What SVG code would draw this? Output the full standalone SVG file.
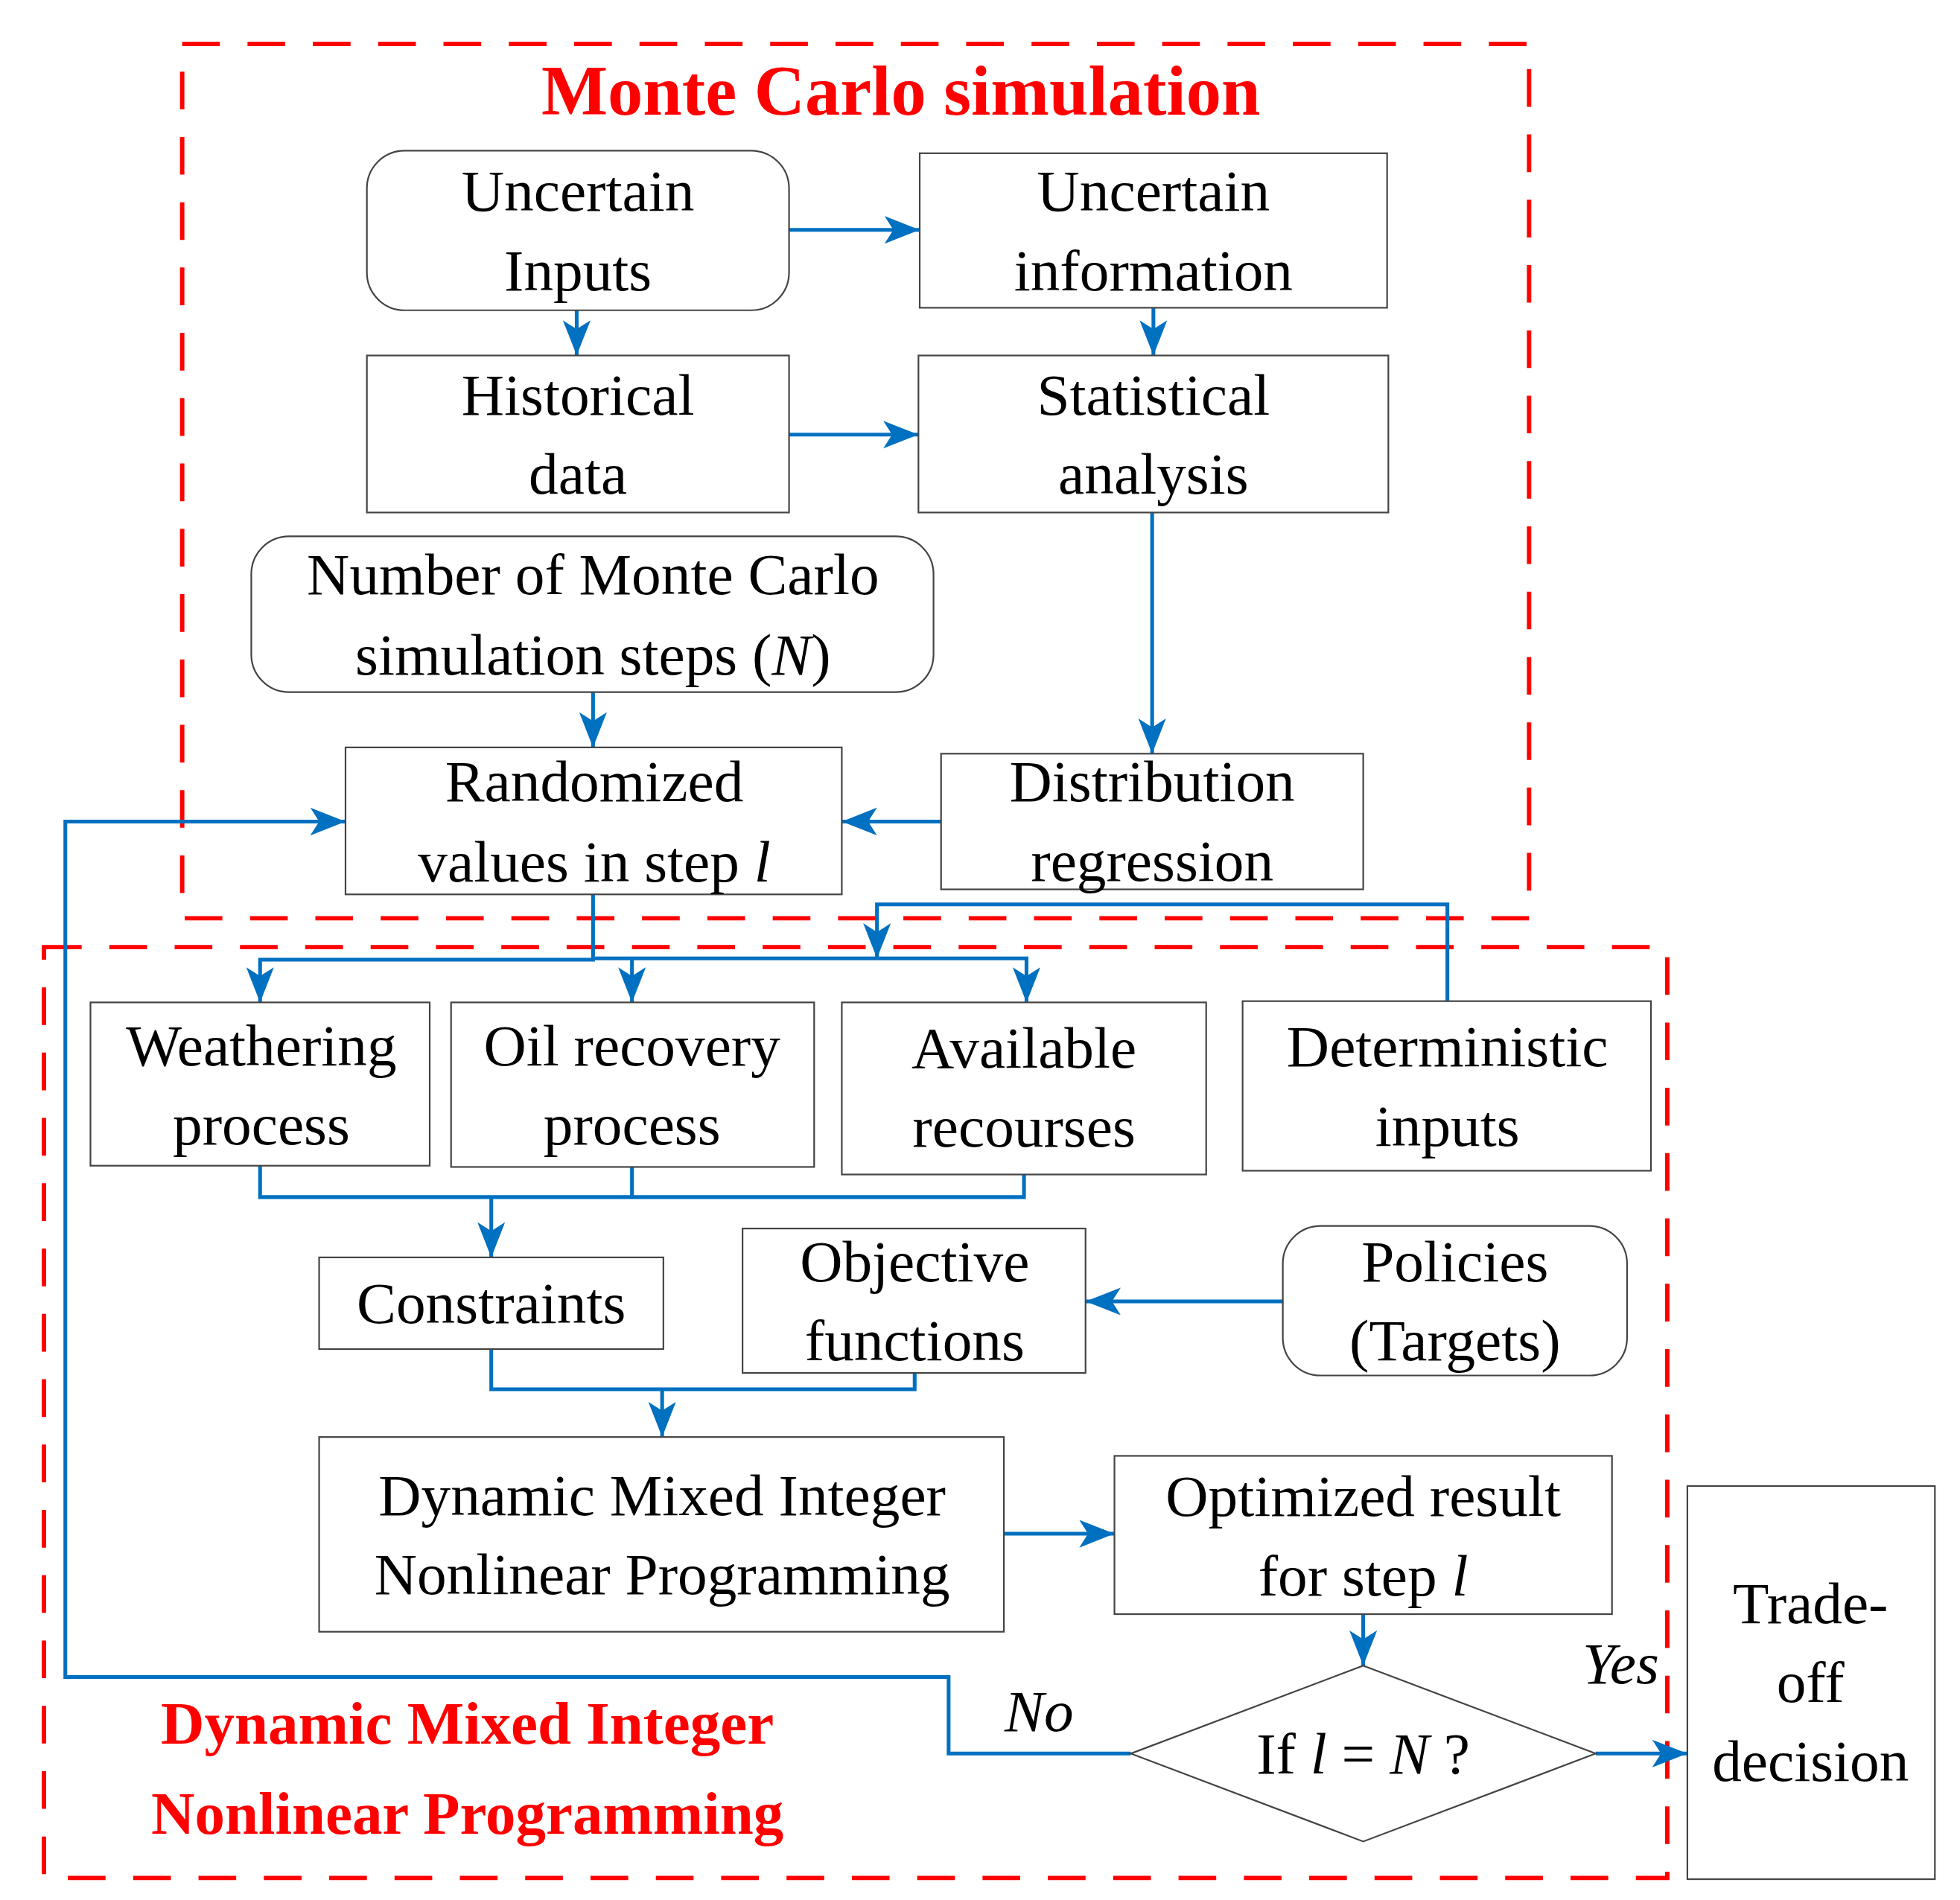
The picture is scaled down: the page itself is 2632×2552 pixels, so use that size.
<svg xmlns="http://www.w3.org/2000/svg" width="2632" height="2552" viewBox="0 0 2632 2552">
<defs>
<style>
.n{fill:#fff;stroke:#444;stroke-width:1.3}
.t{font-family:"Liberation Serif",serif;font-size:47px;fill:#000;text-anchor:middle}
.c{fill:none;stroke:#0070C0;stroke-width:3}
.r{fill:none;stroke:#FF0000;stroke-width:3.5;stroke-dasharray:30 22}
.rt{font-family:"Liberation Serif",serif;font-weight:bold;fill:#FF0000;text-anchor:middle}
</style>
<marker id="a" markerUnits="userSpaceOnUse" markerWidth="30" markerHeight="24" refX="28" refY="11" orient="auto"><path d="M0,0 L28,11 L0,22 L7,11 Z" fill="#0070C0"/></marker>
</defs>
<rect width="2632" height="2552" fill="#fff"/>
<g transform="scale(1.6872)">
<g id="mc-frame"><rect class="r" x="145" y="35" width="1072" height="696"/><text class="rt" x="717" y="91" font-size="56">Monte Carlo simulation</text></g>
<g id="dminlp-frame"><rect class="r" x="35" y="754" width="1292" height="741"/><text class="rt" x="372" y="1388" font-size="48">Dynamic Mixed Integer</text><text class="rt" x="372" y="1460" font-size="48">Nonlinear Programming</text></g>
<g id="connectors">
<path class="c" d="M628,183H732" marker-end="url(#a)"/>
<path class="c" d="M459,247V283" marker-end="url(#a)"/>
<path class="c" d="M918,245V283" marker-end="url(#a)"/>
<path class="c" d="M628,346H731" marker-end="url(#a)"/>
<path class="c" d="M917,408V600" marker-end="url(#a)"/>
<path class="c" d="M472,551V595" marker-end="url(#a)"/>
<path class="c" d="M749,654H670" marker-end="url(#a)"/>
<path class="c" d="M472,712V764H207V798" marker-end="url(#a)"/>
<path class="c" d="M472,763H817V798" marker-end="url(#a)"/>
<path class="c" d="M503,763V798" marker-end="url(#a)"/>
<path class="c" d="M1152,797V720H698V763" marker-end="url(#a)"/>
<path class="c" d="M207,928V953H815V935"/>
<path class="c" d="M503,929V953"/>
<path class="c" d="M391,953V1001" marker-end="url(#a)"/>
<path class="c" d="M391,1074V1106H728V1093"/>
<path class="c" d="M527,1106V1144" marker-end="url(#a)"/>
<path class="c" d="M1021,1036H864" marker-end="url(#a)"/>
<path class="c" d="M799,1221H887" marker-end="url(#a)"/>
<path class="c" d="M1085,1285V1326" marker-end="url(#a)"/>
<path class="c" d="M900,1396H755V1335H52V654H275" marker-end="url(#a)"/>
<path class="c" d="M1270,1396H1343" marker-end="url(#a)"/>
<text class="t" x="827" y="1378" font-style="italic" font-size="38">No</text>
<text class="t" x="1290" y="1340" font-style="italic" font-size="38">Yes</text>
</g>
<g id="uncertain-inputs"><rect class="n" x="292" y="120" width="336" height="127" rx="30"/><text class="t" x="460" y="168">Uncertain</text><text class="t" x="460" y="231">Inputs</text></g>
<g id="uncertain-information"><rect class="n" x="732" y="122" width="372" height="123"/><text class="t" x="918" y="168">Uncertain</text><text class="t" x="918" y="231">information</text></g>
<g id="historical-data"><rect class="n" x="292" y="283" width="336" height="125"/><text class="t" x="460" y="330">Historical</text><text class="t" x="460" y="393">data</text></g>
<g id="statistical-analysis"><rect class="n" x="731" y="283" width="374" height="125"/><text class="t" x="918" y="330">Statistical</text><text class="t" x="918" y="393">analysis</text></g>
<g id="number-steps"><rect class="n" x="200" y="427" width="543" height="124" rx="30"/><text class="t" x="472" y="473">Number of Monte Carlo</text><text class="t" x="472" y="537">simulation steps (<tspan font-style="italic">N</tspan>)</text></g>
<g id="randomized"><rect class="n" x="275" y="595" width="395" height="117"/><text class="t" x="473" y="638">Randomized</text><text class="t" x="473" y="702">values in step <tspan font-style="italic">l</tspan></text></g>
<g id="distribution"><rect class="n" x="749" y="600" width="336" height="108"/><text class="t" x="917" y="638">Distribution</text><text class="t" x="917" y="701">regression</text></g>
<g id="weathering"><rect class="n" x="72" y="798" width="270" height="130"/><text class="t" x="208" y="848">Weathering</text><text class="t" x="208" y="911">process</text></g>
<g id="oil-recovery"><rect class="n" x="359" y="798" width="289" height="131"/><text class="t" x="503" y="848">Oil recovery</text><text class="t" x="503" y="911">process</text></g>
<g id="available"><rect class="n" x="670" y="798" width="290" height="137"/><text class="t" x="815" y="850">Available</text><text class="t" x="815" y="913">recourses</text></g>
<g id="deterministic"><rect class="n" x="989" y="797" width="325" height="135"/><text class="t" x="1152" y="849">Deterministic</text><text class="t" x="1152" y="912">inputs</text></g>
<g id="constraints"><rect class="n" x="254" y="1001" width="274" height="73"/><text class="t" x="391" y="1053">Constraints</text></g>
<g id="objective"><rect class="n" x="591" y="978" width="273" height="115"/><text class="t" x="728" y="1020">Objective</text><text class="t" x="728" y="1083">functions</text></g>
<g id="policies"><rect class="n" x="1021" y="976" width="274" height="119" rx="30"/><text class="t" x="1158" y="1020">Policies</text><text class="t" x="1158" y="1083">(Targets)</text></g>
<g id="dminlp"><rect class="n" x="254" y="1144" width="545" height="155"/><text class="t" x="527" y="1206">Dynamic Mixed Integer</text><text class="t" x="527" y="1269">Nonlinear Programming</text></g>
<g id="optimized"><rect class="n" x="887" y="1159" width="396" height="126"/><text class="t" x="1085" y="1207">Optimized result</text><text class="t" x="1085" y="1270">for step <tspan font-style="italic">l</tspan></text></g>
<g id="decision-diamond"><path class="n" d="M1085,1326L1270,1396L1085,1466L900,1396Z"/><text class="t" x="1085" y="1412">If <tspan font-style="italic">l</tspan> = <tspan font-style="italic">N</tspan> ?</text></g>
<g id="tradeoff"><rect class="n" x="1343" y="1183" width="197" height="313"/><text class="t" x="1441" y="1292">Trade-</text><text class="t" x="1441" y="1355">off</text><text class="t" x="1441" y="1418">decision</text></g>
</g>
</svg>
